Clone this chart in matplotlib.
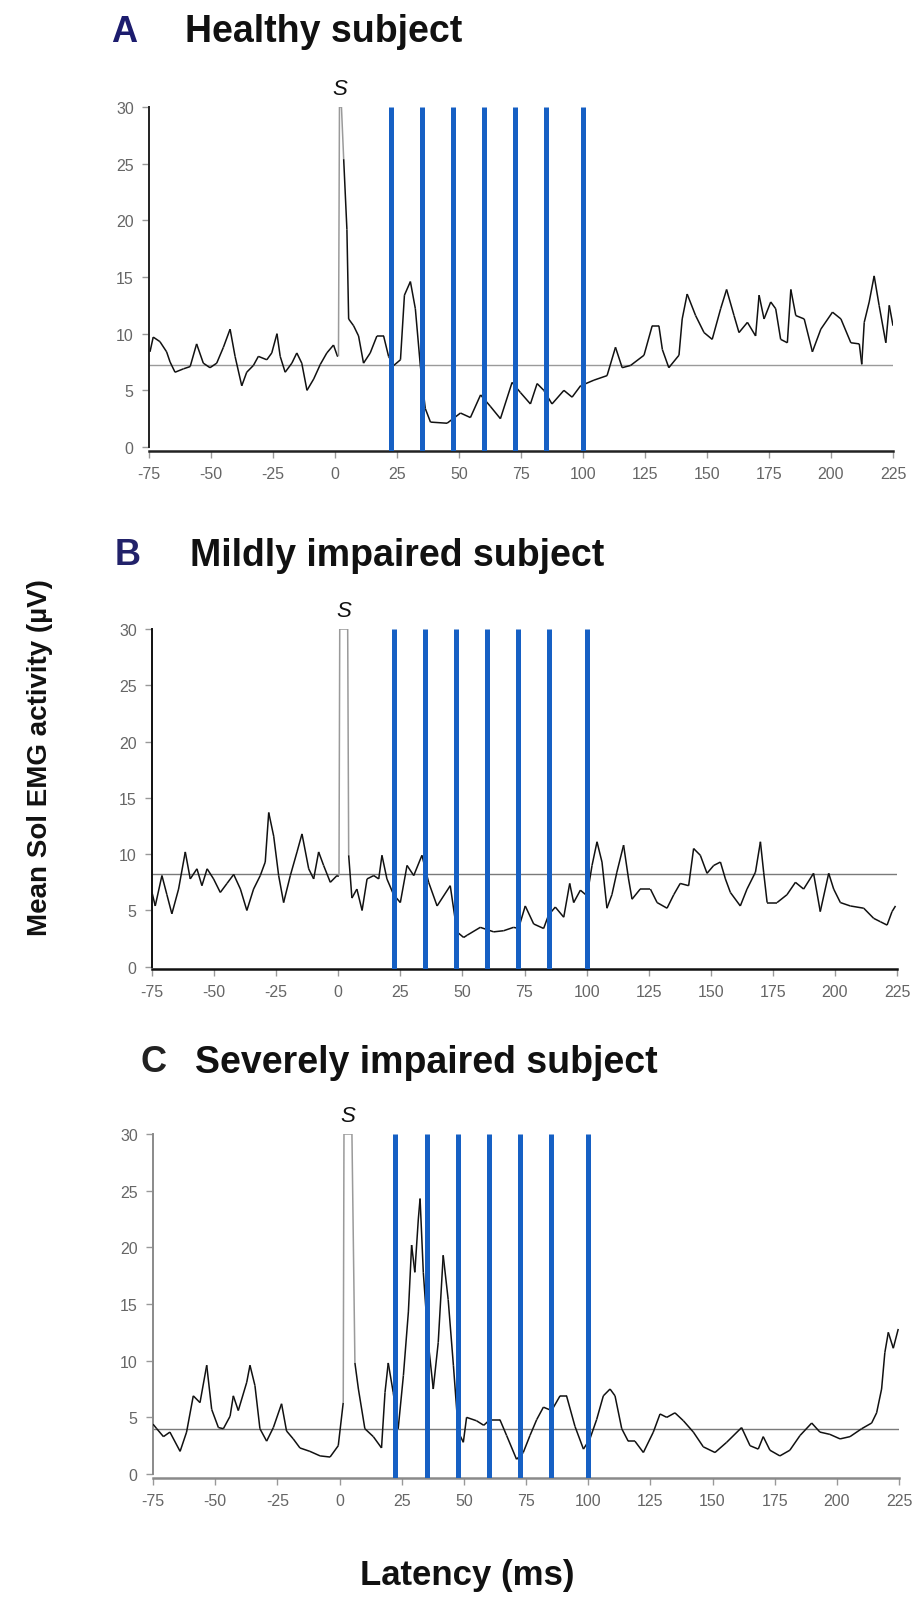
import numpy as np
import matplotlib
matplotlib.use("Agg")
import matplotlib.pyplot as plt
from matplotlib.collections import LineCollection

plt.rcParams['axes.unicode_minus'] = False

# ---------------- data ----------------
a_ms = [-74.6, -73.3, -70.6, -67.9, -66.5, -64.5, -61.1, -58.4, -55.8, -53.1, -50.4, -47.7,
        -45.0, -42.3, -40.3, -37.6, -35.6, -32.9, -30.9, -27.5, -25.5, -23.4, -22.1, -20.1,
        -17.4, -15.4, -13.4, -11.3, -8.6, -5.9, -3.3, -0.6, 1.0, 1.4, 1.8, 2.6, 3.5, 4.8, 5.5,
        7.5, 9.5, 11.5, 14.2, 16.9, 19.6, 21.6, 23.7, 26.4, 28.0, 30.4, 32.4, 34.4, 36.4, 38.5,
        45.2, 50.6, 54.6, 58.7, 62.6, 66.7, 71.4, 74.8, 78.8, 81.5, 84.2, 87.5, 92.3, 95.6,
        99.0, 104.4, 109.7, 113.1, 115.8, 119.2, 124.6, 127.9, 130.6, 132.0, 134.6, 138.7,
        140.0, 142.0, 145.4, 148.8, 152.1, 155.5, 157.9, 160.9, 162.9, 166.3, 169.6, 171.0,
        173.0, 175.7, 177.7, 179.7, 182.4, 183.8, 185.8, 189.2, 192.5, 195.9, 200.6, 204.0,
        208.0, 211.4, 212.4, 213.4, 215.4, 217.4, 219.4, 222.1, 223.5, 225.0]
a_uv = [8.4, 9.7, 9.3, 8.4, 7.5, 6.6, 6.9, 7.1, 9.1, 7.4, 7.0, 7.4,
        8.8, 10.4, 8.0, 5.4, 6.6, 7.2, 8.0, 7.7, 8.3, 10.0, 8.0, 6.6,
        7.4, 8.3, 7.4, 5.0, 6.0, 7.3, 8.3, 9.0, 8.0, 8.0, 30.0, 30.0, 25.4, 19.2, 11.3,
        10.7, 9.8, 7.4, 8.3, 9.8, 9.8, 8.0, 7.2, 7.7, 13.4, 14.6, 12.2, 7.2, 3.4, 2.2,
        2.1, 3.0, 2.6, 4.6, 3.6, 2.5, 5.7, 4.8, 3.8, 5.6, 5.0, 3.8, 5.0, 4.4,
        5.4, 5.9, 6.3, 8.8, 7.0, 7.2, 8.1, 10.7, 10.7, 8.6, 7.0, 8.1,
        11.3, 13.5, 11.6, 10.1, 9.5, 12.2, 13.9, 11.6, 10.1, 11.0, 9.8, 13.4,
        11.3, 12.8, 12.2, 9.5, 9.2, 13.9, 11.6, 11.3, 8.4, 10.4, 11.9, 11.3,
        9.2, 9.1, 7.3, 11.0, 12.8, 15.1, 12.5, 9.2, 12.5, 10.7]

b_ms = [-75.0, -73.7, -71.0, -69.0, -67.0, -64.3, -61.6, -59.6, -56.9, -54.9, -52.8, -50.2,
        -47.5, -44.8, -42.1, -39.4, -36.8, -34.1, -31.4, -29.4, -28.0, -26.0, -24.0, -22.0,
        -19.3, -16.6, -14.6, -11.9, -9.9, -7.9, -5.9, -3.2, -0.5, 0.3, 0.6, 3.8, 4.2, 5.5,
        7.5, 9.6, 11.6, 14.3, 16.3, 17.6, 19.6, 22.3, 25.0, 27.7, 30.4, 33.7, 36.4, 39.8,
        45.1, 47.8, 50.5, 51.9, 57.2, 62.6, 66.6, 70.6, 72.6, 75.3, 78.7, 82.7, 84.7, 87.4,
        90.8, 93.2, 94.8, 97.5, 100.2, 102.2, 104.2, 106.2, 108.2, 110.2, 112.2, 114.9,
        116.9, 118.3, 121.6, 125.7, 128.4, 132.4, 135.1, 137.7, 141.1, 143.1, 145.8, 148.5,
        151.2, 153.9, 155.9, 157.9, 161.9, 164.6, 168.0, 170.0, 171.3, 172.7, 176.7, 180.7,
        184.1, 187.4, 191.4, 194.1, 197.5, 199.5, 202.2, 206.2, 211.6, 215.6, 218.3, 221.0,
        223.0, 224.4]
b_uv = [6.6, 5.4, 8.1, 6.4, 4.7, 6.9, 10.2, 7.8, 8.7, 7.2, 8.7, 7.8,
        6.6, 7.4, 8.2, 6.9, 5.0, 6.9, 8.1, 9.3, 13.7, 11.6, 8.1, 5.7,
        8.1, 10.2, 11.8, 8.7, 7.8, 10.2, 9.0, 7.5, 8.1, 8.1, 30.0, 30.0, 9.9, 6.1,
        6.9, 5.0, 7.8, 8.1, 7.8, 9.9, 7.8, 6.4, 5.7, 9.0, 8.1, 9.9, 7.5, 5.4,
        7.2, 3.1, 2.6, 2.8, 3.5, 3.1, 3.2, 3.5, 3.4, 5.4, 3.8, 3.4, 4.6, 5.3,
        4.4, 7.4, 5.7, 6.8, 6.3, 9.0, 11.1, 9.3, 5.2, 6.4, 8.4, 10.8,
        7.8, 6.0, 6.9, 6.9, 5.7, 5.2, 6.4, 7.4, 7.2, 10.5, 9.9, 8.3,
        9.0, 9.3, 7.8, 6.6, 5.4, 6.9, 8.4, 11.1, 8.4, 5.7, 5.7, 6.4,
        7.5, 6.9, 8.3, 4.9, 8.3, 6.9, 5.7, 5.4, 5.2, 4.3, 4.0, 3.7,
        4.9, 5.4]

c_ms = [-75.0, -73.5, -70.8, -68.2, -64.1, -61.5, -58.8, -56.1, -53.4, -51.4, -48.7, -46.7,
        -44.0, -42.7, -40.7, -37.3, -36.0, -34.0, -32.0, -29.3, -26.6, -23.3, -21.3, -18.6,
        -15.9, -11.9, -7.8, -3.8, -0.5, 1.5, 1.8, 5.0, 6.2, 7.6, 10.2, 13.6, 16.9, 18.3,
        19.6, 21.6, 23.6, 25.7, 27.7, 29.0, 30.3, 31.7, 32.4, 33.7, 35.7, 37.7, 39.7, 41.7,
        43.7, 45.8, 47.8, 49.8, 51.1, 55.1, 58.0, 60.5, 64.5, 67.2, 71.2, 73.9, 76.6, 79.3,
        82.0, 85.3, 88.7, 91.3, 94.7, 98.1, 100.7, 103.4, 106.1, 108.8, 110.8, 113.5, 116.1,
        118.8, 122.2, 126.2, 128.9, 131.6, 134.9, 138.3, 142.3, 146.3, 151.0, 155.7, 161.7,
        165.1, 168.4, 170.4, 173.1, 177.1, 181.1, 185.2, 189.9, 193.2, 197.2, 201.3, 205.3,
        210.0, 214.0, 216.0, 218.0, 219.3, 220.7, 222.7, 224.7]
c_uv = [4.4, 4.0, 3.3, 3.7, 2.0, 3.7, 6.9, 6.3, 9.6, 5.7, 4.1, 4.0,
        5.1, 6.9, 5.6, 8.1, 9.6, 7.8, 4.0, 2.9, 4.1, 6.2, 3.8, 3.1,
        2.3, 2.0, 1.6, 1.5, 2.5, 6.3, 30.0, 30.0, 9.8, 7.5, 4.0, 3.3, 2.3, 7.2,
        9.8, 7.2, 4.0, 8.7, 14.3, 20.2, 17.8, 22.5, 24.3, 17.8, 11.6, 7.5, 11.6, 19.3,
        15.4, 9.6, 3.7, 2.8, 5.0, 4.7, 4.3, 4.8, 4.8, 3.4, 1.3, 1.9, 3.4, 4.8,
        5.9, 5.6, 6.9, 6.9, 4.2, 2.2, 3.1, 4.8, 6.9, 7.5, 6.9, 4.0, 2.9,
        2.9, 1.9, 3.7, 5.3, 5.0, 5.4, 4.7, 3.7, 2.4, 1.9, 2.8, 4.1,
        2.5, 2.2, 3.3, 2.1, 1.6, 2.1, 3.4, 4.5, 3.7, 3.5, 3.1, 3.3,
        4.0, 4.5, 5.4, 7.5, 10.7, 12.5, 11.1, 12.8]

baselines = [7.2, 8.2, 4.0]
stim_ms = [22.5, 35.0, 47.5, 60.0, 72.5, 85.0, 100.0]
stim_peak_ms = [2.0, 2.2, 3.2]
x_ticks = [-75, -50, -25, 0, 25, 50, 75, 100, 125, 150, 175, 200, 225]
y_ticks = [0, 5, 10, 15, 20, 25, 30]
panel_letters = ["A", "B", "C"]
panel_titles = ["Healthy subject", "Mildly impaired subject", "Severely impaired subject"]
y_label = "Mean Sol EMG activity (\u00b5V)"
x_label = "Latency (ms)"

# ---------------- figure ----------------
W, H = 918, 1608
fig = plt.figure(figsize=(W / 100, H / 100), dpi=100)
fig.patch.set_facecolor("white")

tick_font = ["Liberation Sans Narrow", "Liberation Sans", "DejaVu Sans"]
bold_font = ["Liberation Sans", "DejaVu Sans"]

# axes boxes in pixels: left, right, top(y=30), bottom(axis line)
boxes = [(149, 893, 108, 452), (152, 897, 630, 970), (153, 899, 1135, 1479)]
ybottoms = [-0.35, -0.2, -0.35]
spine_cols = ["#222222", "#111111", "#8a8a8a"]
base_cols = ["#9a9a9a", "#7a7a7a", "#7a7a7a"]
traces = [(a_ms, a_uv), (b_ms, b_uv), (c_ms, c_uv)]

for i in range(3):
    l, r, t, b = boxes[i]
    ax = fig.add_axes([l / W, 1 - b / H, (r - l) / W, (b - t) / H])
    ax.set_xlim(-75, 225)
    ax.set_ylim(ybottoms[i], 30)
    for s in ["top", "right"]:
        ax.spines[s].set_visible(False)
    ax.spines["left"].set_bounds(0, 30)
    ax.spines["left"].set_color(spine_cols[i])
    ax.spines["bottom"].set_color(spine_cols[i])
    ax.spines["left"].set_linewidth(1.4)
    ax.spines["bottom"].set_linewidth(1.8)

    ax.set_xticks(x_ticks)
    ax.set_yticks(y_ticks)
    ax.set_xticklabels([str(v) for v in x_ticks])
    ax.set_yticklabels([str(v) for v in y_ticks])
    ax.tick_params(axis="both", direction="out", length=5, width=1.0, color="#999999",
                   labelcolor="#666666", labelsize=11.5, pad=6)
    for lab in ax.get_xticklabels() + ax.get_yticklabels():
        lab.set_family(tick_font)

    # baseline
    ax.plot([-75, 225], [baselines[i], baselines[i]], color=base_cols[i], lw=1.0, zorder=2)

    # trace
    xs = np.array(traces[i][0])
    ys = np.clip(np.array(traces[i][1]), None, 30)
    pts = np.column_stack([xs, ys])
    segs = np.stack([pts[:-1], pts[1:]], axis=1)
    cols = ["#9a9a9a" if max(ys[k], ys[k + 1]) >= 29.5 else "#111111" for k in range(len(ys) - 1)]
    lc = LineCollection(segs, colors=cols, linewidths=1.1, zorder=3)
    ax.add_collection(lc)

    # stimulation lines
    for sx in stim_ms:
        ax.plot([sx, sx], [ybottoms[i], 30], color="#1660c4", lw=3.6,
                solid_capstyle="butt", zorder=4)

    # S marker
    ax.annotate("S", xy=(stim_peak_ms[i], 30), xytext=(0, 13), textcoords="offset points",
                ha="center", va="center", fontsize=16, style="italic", color="#111111",
                family=bold_font, annotation_clip=False)

# titles
title_pos = [(111, 185, 32), (115, 190, 556), (141, 195, 1063)]
letter_cols = ["#1c1c6e", "#22226a", "#222222"]
for i in range(3):
    lx, tx, ty = title_pos[i]
    fig.text(lx / W, 1 - ty / H, panel_letters[i], fontsize=26, fontweight="bold",
             color=letter_cols[i], va="center", ha="left", family=bold_font)
    fig.text(tx / W, 1 - ty / H, panel_titles[i], fontsize=27, fontweight="bold",
             color="#111111", va="center", ha="left", family=bold_font)

fig.text(40 / W, 1 - 758 / H, y_label, rotation=90, fontsize=20, fontweight="bold",
         color="#111111", va="center", ha="center", family=bold_font)
fig.text(467 / W, 1 - 1576 / H, x_label, fontsize=25, fontweight="bold",
         color="#111111", va="center", ha="center", family=bold_font)

fig.savefig("out.png", dpi=100, facecolor="white")
